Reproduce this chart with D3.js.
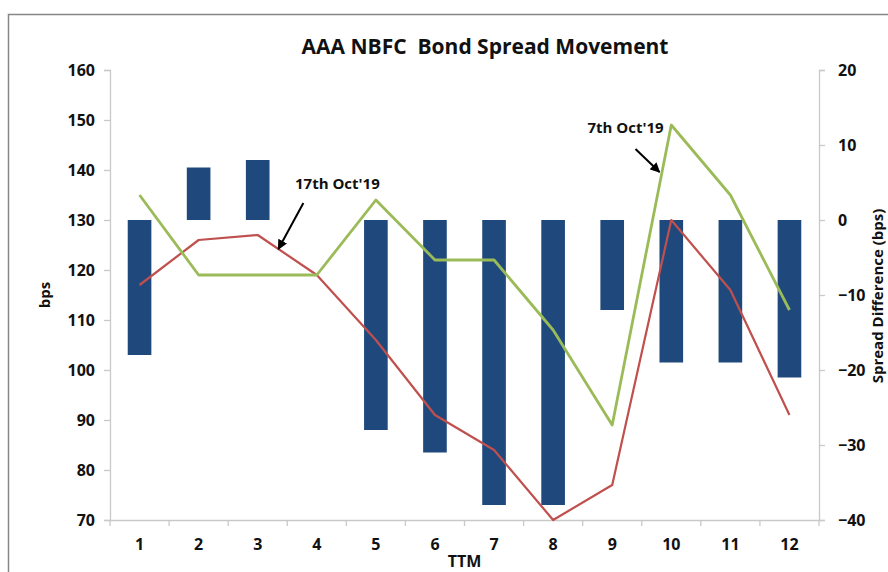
<!DOCTYPE html>
<html><head><meta charset="utf-8">
<script src="https://cdn.jsdelivr.net/npm/d3@7"></script>
<style>html,body{margin:0;padding:0;background:#fff;overflow:hidden}svg{display:block}text{font-family:"Open Sans",sans-serif}</style>
</head><body>
<svg id="c" width="888" height="572"></svg>
<script>
const categories = ["1","2","3","4","5","6","7","8","9","10","11","12"];
const seriesRed = [117,126,127,119,106,91,84,70,77,130,116,91];
const seriesGreen = [135,119,119,119,134,122,122,108,89,149,135,112];
const spreadDiff = [-18,7,8,0,-28,-31,-38,-38,-12,-19,-19,-21];
const leftTicks = [70,80,90,100,110,120,130,140,150,160];
const rightTicks = [-40,-30,-20,-10,0,10,20];
const annotations = [
  {label:"17th Oct'19", cat:"4", side:"left"},
  {label:"7th Oct'19", cat:"10", side:"right"}
];

const svg = d3.select("#c");
const m = {l:110, r:819, t:70, b:520};
const axisCol = "#c9c9c9";

svg.append("rect").attr("x",8.5).attr("y",14.5).attr("width",900).attr("height",600)
  .attr("fill","none").attr("stroke","#878787").attr("stroke-width",1.5);

const x = d3.scaleBand().domain(categories).range([m.l,m.r]).padding(0);
const yL = d3.scaleLinear().domain([70,160]).range([m.b,m.t]);
const yR = d3.scaleLinear().domain([-40,20]).range([m.b,m.t]);
const cx = d => x(d)+x.bandwidth()/2;

// bars
const bw = x.bandwidth()*0.4;
svg.append("g").selectAll("rect").data(spreadDiff).join("rect")
  .attr("x",(d,i)=>cx(categories[i])-bw/2)
  .attr("y",d=>yR(Math.max(0,d)))
  .attr("width",bw)
  .attr("height",d=>Math.abs(yR(d)-yR(0)))
  .attr("fill","#1f497d");

// left axis
const gL = svg.append("g").attr("transform",`translate(${m.l},0)`)
  .call(d3.axisLeft(yL).tickValues(leftTicks).tickSize(6).tickPadding(9));
// right axis
const gR = svg.append("g").attr("transform",`translate(${m.r},0)`)
  .call(d3.axisRight(yR).tickValues(rightTicks).tickSize(6).tickPadding(13));
// bottom axis
const gB = svg.append("g").attr("transform",`translate(0,${m.b})`)
  .call(d3.axisBottom(x).tickSize(0).tickPadding(19));
const bounds = d3.range(categories.length+1).map(i=>m.l+i*x.bandwidth());
svg.append("g").selectAll("line").data(bounds).join("line")
  .attr("x1",d=>d).attr("x2",d=>d).attr("y1",m.b).attr("y2",m.b+6)
  .attr("stroke",axisCol).attr("stroke-width",1.3);

[gL,gR,gB].forEach(g=>{
  g.select(".domain").attr("stroke",axisCol).attr("stroke-width",1.3);
  g.selectAll(".tick line").attr("stroke",axisCol).attr("stroke-width",1.3);
  g.selectAll(".tick text").attr("fill","#111").attr("font-size",16).attr("font-weight",700)
   .attr("font-family","'Open Sans',sans-serif");
});
gB.select(".domain").attr("d",`M${m.l},0.5H${m.r}`);

// lines
const line = d3.line().x((d,i)=>cx(categories[i])).y(d=>yL(d));
svg.append("path").datum(seriesRed).attr("d",line).attr("fill","none")
  .attr("stroke","#c0504d").attr("stroke-width",2.2).attr("stroke-linejoin","round");
svg.append("path").datum(seriesGreen).attr("d",line).attr("fill","none")
  .attr("stroke","#9bbb59").attr("stroke-width",2.8).attr("stroke-linejoin","round");

// title
svg.append("text").attr("x",485).attr("y",54).attr("text-anchor","middle")
  .attr("font-size",21).attr("font-weight",700).attr("fill","#111")
  .style("white-space","pre").text("AAA NBFC  Bond Spread Movement");

// axis titles
svg.append("text").attr("transform","translate(50,295) rotate(-90)").attr("text-anchor","middle")
  .attr("font-size",15).attr("font-weight",700).attr("fill","#111").text("bps");
svg.append("text").attr("transform","translate(883,296) rotate(-90)").attr("text-anchor","middle")
  .attr("font-size",15).attr("font-weight",700).attr("fill","#111").text("Spread Difference (bps)");
svg.append("text").attr("x",(m.l+m.r)/2).attr("y",567).attr("text-anchor","middle")
  .attr("font-size",16).attr("font-weight",700).attr("fill","#111").text("TTM");

// annotations
const defs = svg.append("defs");
defs.append("marker").attr("id","ah").attr("viewBox","0 0 10 10").attr("refX",9).attr("refY",5)
  .attr("markerWidth",5).attr("markerHeight",5).attr("orient","auto")
  .append("path").attr("d","M0,0L10,5L0,10z").attr("fill","#000");

// 17th Oct'19 : pointing at red line between cat 3 and 4
const a1x = cx("3") + 0.35*x.bandwidth();
const a1y = yL(seriesRed[2] + 0.35*(seriesRed[3]-seriesRed[2]));
svg.append("line").attr("x1",a1x+25).attr("y1",a1y-46).attr("x2",a1x).attr("y2",a1y)
  .attr("stroke","#000").attr("stroke-width",2).attr("marker-end","url(#ah)");
svg.append("text").attr("x",a1x+59).attr("y",a1y-60).attr("text-anchor","middle")
  .attr("font-size",15).attr("font-weight",700).attr("fill","#111").text(annotations[0].label);

// 7th Oct'19 : pointing at green line between cat 9 and 10
const f = 0.8;
const a2x = cx("9") + f*x.bandwidth();
const a2y = yL(seriesGreen[8] + f*(seriesGreen[9]-seriesGreen[8])) - 13;
svg.append("line").attr("x1",a2x-24).attr("y1",a2y-23).attr("x2",a2x).attr("y2",a2y)
  .attr("stroke","#000").attr("stroke-width",2).attr("marker-end","url(#ah)");
svg.append("text").attr("x",a2x-34).attr("y",a2y-39).attr("text-anchor","middle")
  .attr("font-size",15).attr("font-weight",700).attr("fill","#111").text(annotations[1].label);
</script>
</body></html>
